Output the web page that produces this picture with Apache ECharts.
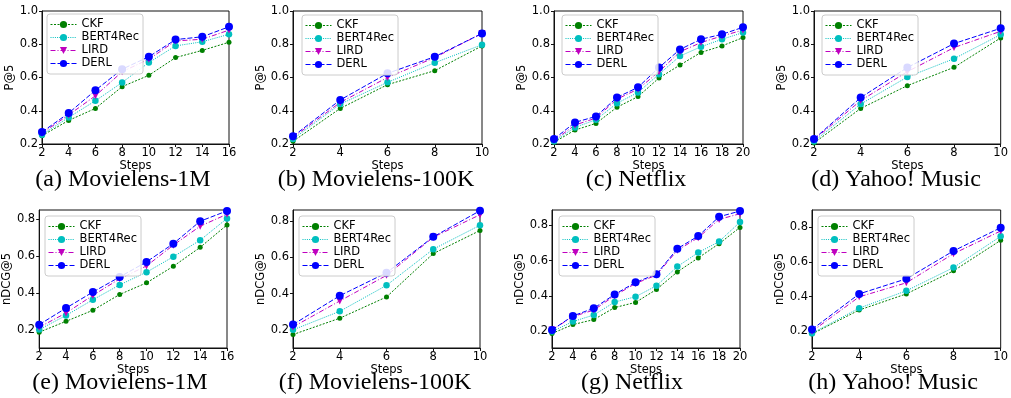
<!DOCTYPE html>
<html>
<head>
<meta charset="utf-8">
<script src="https://cdn.jsdelivr.net/npm/echarts@6/dist/echarts.min.js"></script>
<style>
html,body{margin:0;padding:0;background:#fff;}
#chart{width:1011px;height:398px;}
</style>
</head>
<body>
<div id="chart"></div>
<script>
// ---------- data ----------
const seriesNames = ['CKF', 'BERT4Rec', 'LIRD', 'DERL'];

const stepsML1M = [2, 4, 6, 8, 10, 12, 14, 16];
const stepsML100K = [2, 4, 6, 8, 10];
const stepsNetflix = [2, 4, 6, 8, 10, 12, 14, 16, 18, 20];
const stepsYahoo = [2, 4, 6, 8, 10];

const p5ML1M_CKF = [0.25, 0.342, 0.414, 0.545, 0.613, 0.72, 0.763, 0.812];
const p5ML1M_BERT4Rec = [0.256, 0.36, 0.46, 0.57, 0.69, 0.79, 0.815, 0.86];
const p5ML1M_LIRD = [0.265, 0.375, 0.49, 0.635, 0.71, 0.82, 0.83, 0.885];
const p5ML1M_DERL = [0.272, 0.386, 0.523, 0.65, 0.725, 0.828, 0.845, 0.905];

const p5ML100K_CKF = [0.216, 0.414, 0.557, 0.641, 0.79];
const p5ML100K_BERT4Rec = [0.23, 0.44, 0.571, 0.689, 0.797];
const p5ML100K_LIRD = [0.24, 0.45, 0.6, 0.72, 0.865];
const p5ML100K_DERL = [0.246, 0.465, 0.625, 0.725, 0.865];

const p5Netflix_CKF = [0.21, 0.284, 0.324, 0.421, 0.485, 0.597, 0.675, 0.751, 0.79, 0.84];
const p5Netflix_BERT4Rec = [0.216, 0.3, 0.346, 0.445, 0.51, 0.62, 0.729, 0.785, 0.83, 0.87];
const p5Netflix_LIRD = [0.222, 0.314, 0.356, 0.47, 0.53, 0.635, 0.755, 0.81, 0.85, 0.885];
const p5Netflix_DERL = [0.23, 0.33, 0.366, 0.48, 0.541, 0.66, 0.769, 0.83, 0.86, 0.902];

const p5Yahoo_CKF = [0.206, 0.414, 0.551, 0.661, 0.838];
const p5Yahoo_BERT4Rec = [0.216, 0.44, 0.603, 0.713, 0.858];
const p5Yahoo_LIRD = [0.226, 0.461, 0.635, 0.78, 0.878];
const p5Yahoo_DERL = [0.23, 0.479, 0.66, 0.804, 0.896];

const ndcgML1M_CKF = [0.186, 0.245, 0.305, 0.391, 0.454, 0.544, 0.647, 0.769];
const ndcgML1M_BERT4Rec = [0.2, 0.277, 0.362, 0.443, 0.512, 0.596, 0.686, 0.804];
const ndcgML1M_LIRD = [0.213, 0.29, 0.386, 0.476, 0.546, 0.659, 0.762, 0.827];
const ndcgML1M_DERL = [0.227, 0.317, 0.404, 0.486, 0.568, 0.667, 0.789, 0.845];

const ndcgML100K_CKF = [0.174, 0.264, 0.381, 0.62, 0.747];
const ndcgML100K_BERT4Rec = [0.2, 0.302, 0.445, 0.644, 0.776];
const ndcgML100K_LIRD = [0.216, 0.359, 0.5, 0.71, 0.834];
const ndcgML100K_DERL = [0.229, 0.388, 0.514, 0.712, 0.856];

const ndcgNetflix_CKF = [0.189, 0.239, 0.267, 0.335, 0.364, 0.437, 0.536, 0.615, 0.695, 0.787];
const ndcgNetflix_BERT4Rec = [0.2, 0.256, 0.293, 0.366, 0.396, 0.458, 0.566, 0.645, 0.707, 0.817];
const ndcgNetflix_LIRD = [0.209, 0.284, 0.321, 0.402, 0.471, 0.518, 0.658, 0.729, 0.832, 0.864];
const ndcgNetflix_DERL = [0.209, 0.288, 0.331, 0.409, 0.477, 0.523, 0.667, 0.738, 0.847, 0.879];

const ndcgYahoo_CKF = [0.185, 0.323, 0.416, 0.549, 0.725];
const ndcgYahoo_BERT4Rec = [0.189, 0.334, 0.434, 0.568, 0.748];
const ndcgYahoo_LIRD = [0.2, 0.399, 0.48, 0.648, 0.779];
const ndcgYahoo_DERL = [0.211, 0.416, 0.503, 0.664, 0.798];

const yTicksP5 = [0.2, 0.4, 0.6, 0.8, 1.0];
const yTicksNDCG = [0.2, 0.4, 0.6, 0.8];

const captions = ['(a) Movielens-1M', '(b) Movielens-100K', '(c) Netflix', '(d) Yahoo! Music',
                  '(e) Movielens-1M', '(f) Movielens-100K', '(g) Netflix', '(h) Yahoo! Music'];

// ---------- panels ----------
const panels = [
  {steps: stepsML1M, vals: [p5ML1M_CKF, p5ML1M_BERT4Rec, p5ML1M_LIRD, p5ML1M_DERL], yName: 'P@5', yMin: 0.2, yMax: 1.0, yTicks: yTicksP5,
   grid: {left: 42, top: 11, width: 187, height: 133}, leg: {left: 47, top: 14}, nameGap: 23, cap: [123, 180]},
  {steps: stepsML100K, vals: [p5ML100K_CKF, p5ML100K_BERT4Rec, p5ML100K_LIRD, p5ML100K_DERL], yName: 'P@5', yMin: 0.2, yMax: 1.0, yTicks: yTicksP5,
   grid: {left: 293, top: 11, width: 189, height: 133}, leg: {left: 302, top: 15}, nameGap: 20, cap: [376, 180]},
  {steps: stepsNetflix, vals: [p5Netflix_CKF, p5Netflix_BERT4Rec, p5Netflix_LIRD, p5Netflix_DERL], yName: 'P@5', yMin: 0.2, yMax: 1.0, yTicks: yTicksP5,
   grid: {left: 554, top: 11, width: 189, height: 133}, leg: {left: 562, top: 15}, nameGap: 20, cap: [636, 180]},
  {steps: stepsYahoo, vals: [p5Yahoo_CKF, p5Yahoo_BERT4Rec, p5Yahoo_LIRD, p5Yahoo_DERL], yName: 'P@5', yMin: 0.2, yMax: 1.0, yTicks: yTicksP5,
   grid: {left: 814, top: 11, width: 189, height: 133}, leg: {left: 822, top: 15}, nameGap: 20, cap: [896, 180]},
  {steps: stepsML1M, vals: [ndcgML1M_CKF, ndcgML1M_BERT4Rec, ndcgML1M_LIRD, ndcgML1M_DERL], yName: 'nDCG@5', yMin: 0.1, yMax: 0.85, yTicks: yTicksNDCG,
   grid: {left: 39, top: 210, width: 188, height: 138}, leg: {left: 45, top: 216}, nameGap: 21, cap: [120, 383]},
  {steps: stepsML100K, vals: [ndcgML100K_CKF, ndcgML100K_BERT4Rec, ndcgML100K_LIRD, ndcgML100K_DERL], yName: 'nDCG@5', yMin: 0.1, yMax: 0.86, yTicks: yTicksNDCG,
   grid: {left: 293, top: 210, width: 187, height: 138}, leg: {left: 299, top: 216}, nameGap: 21, cap: [375, 383]},
  {steps: stepsNetflix, vals: [ndcgNetflix_CKF, ndcgNetflix_BERT4Rec, ndcgNetflix_LIRD, ndcgNetflix_DERL], yName: 'nDCG@5', yMin: 0.107, yMax: 0.885, yTicks: yTicksNDCG,
   grid: {left: 552, top: 210, width: 188, height: 138}, leg: {left: 559, top: 216}, nameGap: 21, cap: [632, 383]},
  {steps: stepsYahoo, vals: [ndcgYahoo_CKF, ndcgYahoo_BERT4Rec, ndcgYahoo_LIRD, ndcgYahoo_DERL], yName: 'nDCG@5', yMin: 0.104, yMax: 0.9, yTicks: yTicksNDCG,
   grid: {left: 812, top: 210, width: 189, height: 138}, leg: {left: 818, top: 216}, nameGap: 21, cap: [893, 383]}
];

const styles = [
  {color: '#008000', type: [2, 1.5], symbol: 'circle', size: 5},
  {color: '#00BFBF', type: [1, 1.2], symbol: 'circle', size: 6.5},
  {color: '#BF00BF', type: [5, 2, 1, 2], symbol: 'path://M0,0 L10,0 L5,10 Z', size: 7},
  {color: '#0000FF', type: [5, 2], symbol: 'circle', size: 8}
];

const FONT = 'DejaVu Sans';
const grids = [], xAxes = [], yAxes = [], series = [], legends = [], graphics = [];

panels.forEach((p, i) => {
  grids.push(Object.assign({show: true, borderColor: '#111', borderWidth: 1, backgroundColor: 'transparent'}, p.grid));
  xAxes.push({
    type: 'value', gridIndex: i, min: p.steps[0], max: p.steps[p.steps.length - 1], interval: 2,
    name: 'Steps', nameLocation: 'middle', nameGap: 13,
    nameTextStyle: {fontFamily: FONT, fontSize: 11.5, color: '#000'},
    axisLine: {show: true, lineStyle: {color: '#111', width: 1}},
    axisTick: {show: true, length: 3, lineStyle: {color: '#111'}},
    axisLabel: {fontFamily: FONT, fontSize: 11.5, color: '#000', margin: 3},
    splitLine: {show: false}
  });
  yAxes.push({
    type: 'value', gridIndex: i, min: p.yMin, max: p.yMax,
    name: p.yName, nameLocation: 'middle', nameGap: p.nameGap, nameRotate: 90,
    nameTextStyle: {fontFamily: FONT, fontSize: 11.5, color: '#000'},
    axisLine: {show: true, lineStyle: {color: '#111', width: 1}},
    axisTick: {show: true, length: 3, lineStyle: {color: '#111'}, customValues: p.yTicks},
    axisLabel: {fontFamily: FONT, fontSize: 11.5, color: '#000', margin: 4, customValues: p.yTicks,
                formatter: v => v.toFixed(1)},
    splitLine: {show: false}
  });
  seriesNames.forEach((name, k) => {
    const st = styles[k];
    series.push({
      name: name, type: 'line', xAxisIndex: i, yAxisIndex: i,
      data: p.steps.map((s, j) => [s, p.vals[k][j]]),
      symbol: st.symbol, symbolSize: st.size, showSymbol: true,
      lineStyle: {color: st.color, width: 1, type: st.type},
      itemStyle: {color: st.color},
      z: 2, zlevel: 0, clip: true, animation: false
    });
  });
  legends.push({
    left: p.leg.left, top: p.leg.top, orient: 'vertical', z: 20,
    data: seriesNames.slice(),
    itemWidth: 26, itemHeight: 9, itemGap: 0,
    padding: [4, 4, 4, 3],
    borderColor: '#cccccc', borderWidth: 1, borderRadius: 3, backgroundColor: 'rgba(255,255,255,0.85)',
    lineStyle: {width: 1},
    textStyle: {fontFamily: FONT, fontSize: 11.5, color: '#000', lineHeight: 13},
    selectedMode: false
  });
  graphics.push({
    type: 'text', x: p.cap[0], y: p.cap[1],
    style: {text: captions[i], fontFamily: 'Liberation Serif', fontSize: 24, fill: '#000',
            textAlign: 'center', textVerticalAlign: 'middle'}
  });
});

const chart = echarts.init(document.getElementById('chart'), null, {renderer: 'canvas'});
chart.setOption({
  animation: false,
  backgroundColor: '#fff',
  grid: grids, xAxis: xAxes, yAxis: yAxes, series: series, legend: legends, graphic: graphics
});
</script>
</body>
</html>
